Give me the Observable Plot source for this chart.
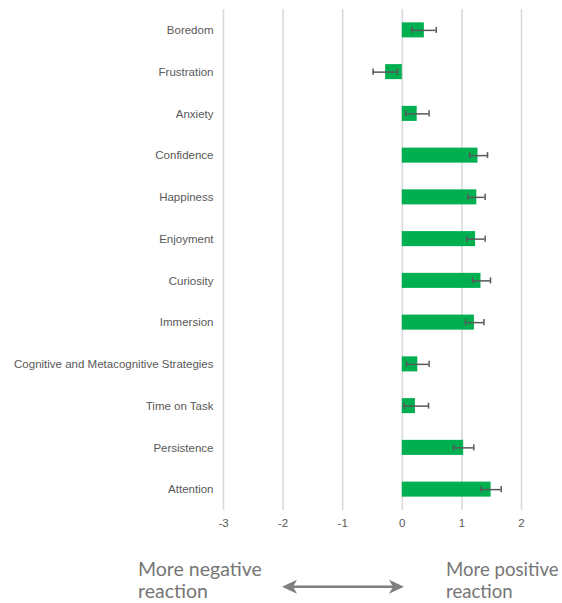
<!DOCTYPE html>
<html>
<head>
<meta charset="utf-8">
<script src="https://cdn.jsdelivr.net/npm/d3@7"></script>
<script src="https://cdn.jsdelivr.net/npm/@observablehq/plot@0.6"></script>
<style>
  html, body { margin: 0; padding: 0; background: #fff; overflow: hidden; }
  #wrap { width: 562px; }
  #wrap svg { display: block; }
  #wrap svg.chart, #wrap svg.chart text { font-family: "Liberation Sans", Arial, sans-serif !important; }
  #note text { font-family: Lato, "Open Sans", sans-serif; fill: #767676; font-size: 19.5px; }
  #note text.r { font-size: 18.6px; }
</style>
</head>
<body>
<div id="wrap"></div>
<script>
const categories = ["Boredom","Frustration","Anxiety","Confidence","Happiness","Enjoyment","Curiosity","Immersion","Cognitive and Metacognitive Strategies","Time on Task","Persistence","Attention"];
const means =  [0.37, -0.28, 0.25, 1.27, 1.25, 1.23, 1.32, 1.21, 0.26, 0.22, 1.03, 1.49];
const lower =  [0.16, -0.49, 0.06, 1.13, 1.10, 1.08, 1.18, 1.06, 0.07, 0.03, 0.86, 1.32];
const upper =  [0.57, -0.08, 0.45, 1.43, 1.39, 1.39, 1.48, 1.37, 0.45, 0.44, 1.20, 1.66];
const xTicks = [-3, -2, -1, 0, 1, 2];
const leftNote = ["More negative", "reaction"];
const rightNote = ["More positive", "reaction"];

const data = categories.map((c, i) => ({category: c, mean: means[i], lo: lower[i], hi: upper[i]}));

const chart = Plot.plot({
  width: 562,
  height: 530,
  marginLeft: 223,
  marginRight: 41,
  marginTop: 9,
  marginBottom: 20,
  className: "chart",
  style: {fontFamily: "'Liberation Sans', Arial, sans-serif", fontSize: "11.5px", color: "#595959", background: "#fff"},
  x: {domain: [-3, 2], ticks: xTicks, label: null},
  y: {domain: categories, label: null, paddingInner: 0.64, paddingOuter: 0.32, round: false},
  marks: [
    Plot.gridX(xTicks, {stroke: "#d9d9d9", strokeOpacity: 1, strokeWidth: 1.6}),
    Plot.barX(data, {x: "mean", y: "category", fill: "#00b050"}),
    Plot.ruleY(data, {x1: "lo", x2: "hi", y: "category", stroke: "#595959", strokeWidth: 1.5}),
    Plot.tickX(data, {x: "lo", y: "category", stroke: "#595959", strokeWidth: 1.5, insetTop: 4.5, insetBottom: 4.5}),
    Plot.tickX(data, {x: "hi", y: "category", stroke: "#595959", strokeWidth: 1.5, insetTop: 4.5, insetBottom: 4.5}),
    Plot.axisX({ticks: xTicks, tickSize: 0, tickPadding: 8, fill: "#595959", label: null, tickFormat: d => String(d)}),
    Plot.axisY({tickSize: 0, tickPadding: 10, fill: "#595959", label: null})
  ]
});

document.getElementById("wrap").appendChild(chart);

const ay = 56.7;
const note = document.createElementNS("http://www.w3.org/2000/svg", "svg");
note.setAttribute("id", "note");
note.setAttribute("width", 562);
note.setAttribute("height", 73);
note.innerHTML = `
  <text x="138" y="46">${leftNote[0]}</text>
  <text x="138" y="68">${leftNote[1]}</text>
  <text class="r" x="446" y="46">${rightNote[0]}</text>
  <text class="r" x="446" y="68">${rightNote[1]}</text>
  <line x1="290" y1="${ay}" x2="396" y2="${ay}" stroke="#7f7f7f" stroke-width="2.6"></line>
  <path d="M404,${ay} L389,${ay-7} L393,${ay} L389,${ay+7} Z" fill="#7f7f7f"></path>
  <path d="M282,${ay} L297,${ay-7} L293,${ay} L297,${ay+7} Z" fill="#7f7f7f"></path>`;
document.getElementById("wrap").appendChild(note);
</script>
</body>
</html>
